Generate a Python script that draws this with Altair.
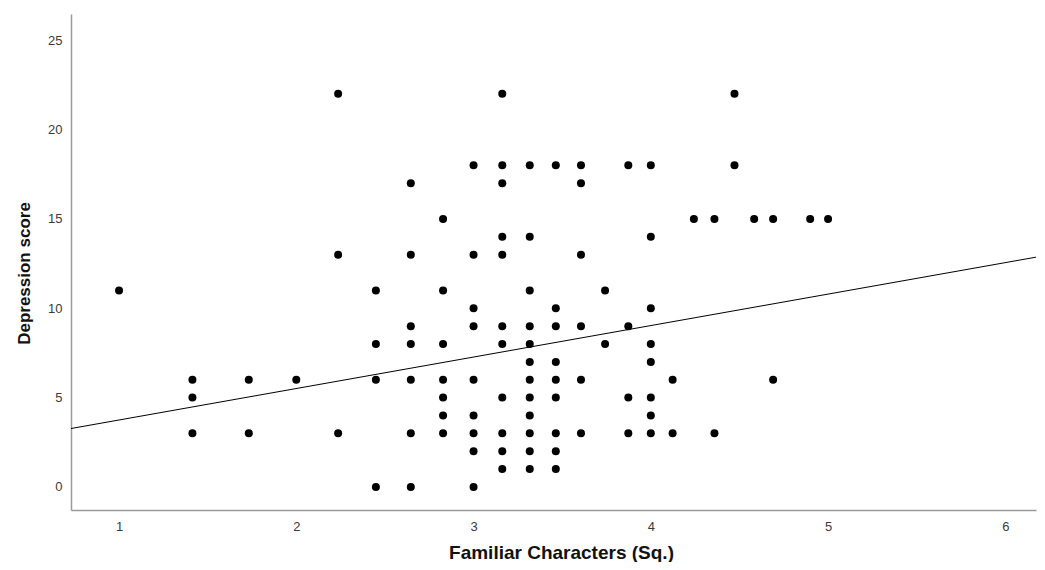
import altair as alt
import pandas as pd

# Scatter points (x = square-root transformed familiar characters, y = depression score)
x_vals = [
    2.236, 3.162, 4.472,
    3.0, 3.162, 3.317, 3.464, 3.606, 3.873, 4.0, 4.472,
    2.646, 3.162, 3.606,
    2.828, 4.243, 4.359, 4.583, 4.690, 4.899, 5.0,
    3.162, 3.317, 4.0,
    2.236, 2.646, 3.0, 3.162, 3.606,
    1.0, 2.449, 2.828, 3.317, 3.742,
    3.0, 3.464, 4.0,
    2.646, 3.0, 3.162, 3.317, 3.464, 3.606, 3.873,
    2.449, 2.646, 2.828, 3.162, 3.317, 3.742, 4.0,
    3.317, 3.464, 4.0,
    1.414, 1.732, 2.0, 2.449, 2.646, 2.828, 3.0, 3.317, 3.464, 3.606, 4.123, 4.690,
    1.414, 2.828, 3.162, 3.317, 3.464, 3.873, 4.0,
    2.828, 3.0, 3.317, 4.0,
    1.414, 1.732, 2.236, 2.646, 2.828, 3.0, 3.162, 3.317, 3.464, 3.606, 3.873, 4.0, 4.123, 4.359,
    3.0, 3.162, 3.317, 3.464,
    3.162, 3.317, 3.464,
    2.449, 2.646, 3.0,
]
y_vals = (
    [22] * 3 + [18] * 8 + [17] * 3 + [15] * 7 + [14] * 3 + [13] * 5 + [11] * 5
    + [10] * 3 + [9] * 7 + [8] * 7 + [7] * 3 + [6] * 12 + [5] * 7 + [4] * 4
    + [3] * 14 + [2] * 4 + [1] * 3 + [0] * 3
)

# Fit line (endpoints at the axis edges)
fit_x = [0.729, 6.173]
fit_y = [3.27, 12.86]

x_domain = [0.729, 6.173]
y_domain = [-1.29, 26.47]
x_ticks = [1, 2, 3, 4, 5, 6]
y_ticks = [0, 5, 10, 15, 20, 25]

pts = pd.DataFrame({"x": x_vals, "y": y_vals})
fit = pd.DataFrame({"x": fit_x, "y": fit_y})

FONT = "Liberation Sans"

xscale = alt.Scale(domain=x_domain, nice=False, zero=False)
yscale = alt.Scale(domain=y_domain, nice=False, zero=False)

xaxis = alt.Axis(
    title="Familiar Characters (Sq.)",
    values=x_ticks, format="d",
    grid=False, ticks=False,
    domainColor="#9a9a9a", domainWidth=1.5,
    labelFont=FONT, labelFontSize=13, labelColor="#3a3a3a", labelPadding=10,
    titleFont=FONT, titleFontSize=19, titleFontWeight="bold", titleColor="#111111",
    titleBaseline="alphabetic", titleX=490, titleY=48,
)
yaxis = alt.Axis(
    title="Depression score",
    values=y_ticks, format="d",
    grid=False, ticks=False,
    domainColor="#9a9a9a", domainWidth=1.5,
    labelFont=FONT, labelFontSize=13, labelColor="#3a3a3a", labelPadding=9,
    titleFont=FONT, titleFontSize=17, titleFontWeight="bold", titleColor="#111111",
    titleBaseline="alphabetic", titleX=-42, titleY=259,
)

points = alt.Chart(pts).mark_circle(color="black", opacity=1, size=64).encode(
    x=alt.X("x:Q", scale=xscale, axis=xaxis),
    y=alt.Y("y:Q", scale=yscale, axis=yaxis),
)

line = alt.Chart(fit).mark_line(color="black", strokeWidth=1).encode(
    x=alt.X("x:Q", scale=xscale),
    y=alt.Y("y:Q", scale=yscale),
)

chart = (
    alt.layer(line, points)
    .properties(
        width=965,
        height=496,
        background="white",
        autosize=alt.AutoSizeParams(type="none"),
        padding={"left": 63, "top": 6, "right": 1, "bottom": 52},
    )
    .configure_view(strokeWidth=0)
)

chart.save("out.html", embed_options={"renderer": "svg", "actions": False})
